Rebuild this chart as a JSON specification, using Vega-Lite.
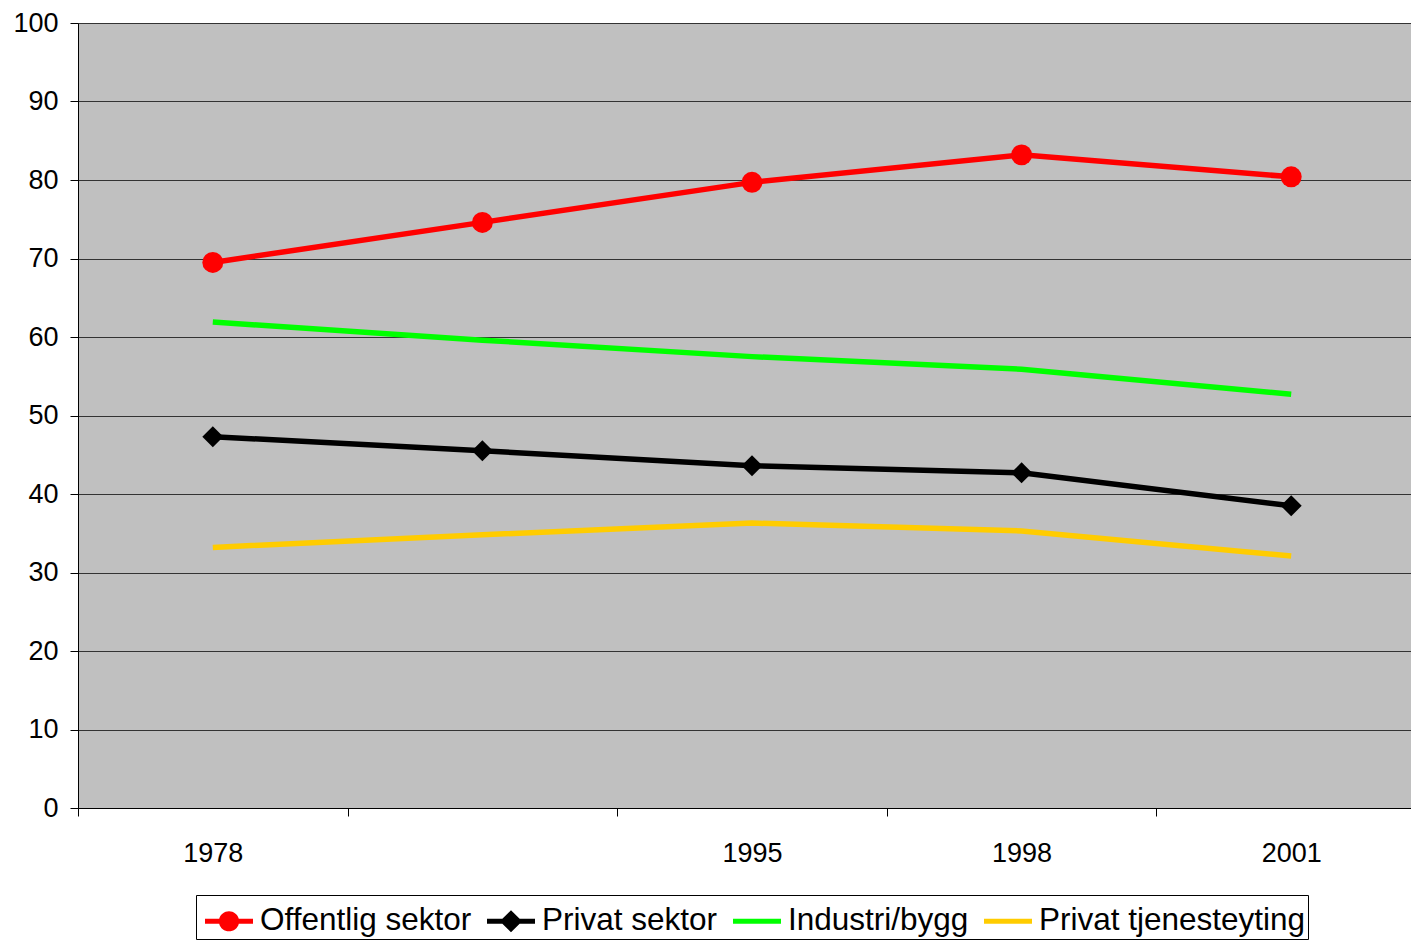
{
  "$schema": "https://vega.github.io/schema/vega-lite/v6.json",
  "width": 1348,
  "height": 785,
  "autosize": {"type": "none"},
  "padding": {"left": 78, "top": 23, "right": 0, "bottom": 132},
  "background": "white",
  "config": {
    "view": {"fill": "#c0c0c0", "stroke": null},
    "font": "Liberation Sans"
  },
  "data": {
    "values": [
      {"year": "1978", "series": "Offentlig sektor", "value": 69.5},
      {"year": "", "series": "Offentlig sektor", "value": 74.6},
      {"year": "1995", "series": "Offentlig sektor", "value": 79.7},
      {"year": "1998", "series": "Offentlig sektor", "value": 83.2},
      {"year": "2001", "series": "Offentlig sektor", "value": 80.4},
      {"year": "1978", "series": "Privat sektor", "value": 47.3},
      {"year": "", "series": "Privat sektor", "value": 45.5},
      {"year": "1995", "series": "Privat sektor", "value": 43.6},
      {"year": "1998", "series": "Privat sektor", "value": 42.7},
      {"year": "2001", "series": "Privat sektor", "value": 38.5},
      {"year": "1978", "series": "Industri/bygg", "value": 61.9},
      {"year": "", "series": "Industri/bygg", "value": 59.6},
      {"year": "1995", "series": "Industri/bygg", "value": 57.5},
      {"year": "1998", "series": "Industri/bygg", "value": 55.9},
      {"year": "2001", "series": "Industri/bygg", "value": 52.7},
      {"year": "1978", "series": "Privat tjenesteyting", "value": 33.2},
      {"year": "", "series": "Privat tjenesteyting", "value": 34.8},
      {"year": "1995", "series": "Privat tjenesteyting", "value": 36.3},
      {"year": "1998", "series": "Privat tjenesteyting", "value": 35.3},
      {"year": "2001", "series": "Privat tjenesteyting", "value": 32.1}
    ]
  },
  "encoding": {
    "x": {
      "field": "year",
      "type": "ordinal",
      "sort": ["1978", "", "1995", "1998", "2001"],
      "scale": {"type": "band", "paddingInner": 0, "paddingOuter": 0},
      "axis": {
        "title": null,
        "labelAngle": 0,
        "tickBand": "extent",
        "tickSize": 8,
        "tickColor": "black",
        "domainColor": "black",
        "labelFontSize": 27,
        "labelFont": "Liberation Sans",
        "labelColor": "black",
        "labelPadding": 24,
        "grid": false
      }
    },
    "y": {
      "field": "value",
      "type": "quantitative",
      "scale": {"domain": [0, 100], "nice": false},
      "axis": {
        "title": null,
        "values": [0, 10, 20, 30, 40, 50, 60, 70, 80, 90, 100],
        "grid": true,
        "gridColor": "#333333",
        "gridOpacity": 1,
        "tickSize": 8,
        "tickColor": "black",
        "domainColor": "black",
        "labelFontSize": 27,
        "labelFont": "Liberation Sans",
        "labelColor": "black",
        "labelPadding": 12
      }
    }
  },
  "layer": [
    {
      "mark": {"type": "line", "strokeWidth": 5.5, "strokeCap": "butt"},
      "encoding": {
        "color": {
          "field": "series",
          "type": "nominal",
          "scale": {
            "domain": ["Offentlig sektor", "Privat sektor", "Industri/bygg", "Privat tjenesteyting"],
            "range": ["#ff0000", "#000000", "#00ff00", "#ffcc00"]
          },
          "legend": {
            "title": null,
            "orient": "none",
            "legendX": 118,
            "legendY": 872,
            "direction": "horizontal",
            "strokeColor": "black",
            "fillColor": "white",
            "padding": 2,
            "symbolSize": 2304,
            "symbolOffset": 7,
            "symbolStrokeWidth": 0,
            "labelOffset": 7,
            "labelLimit": 0,
            "columnPadding": 8,
            "labelFontSize": 31.5,
            "labelFont": "Liberation Sans",
            "labelColor": "black",
            "encode": {
              "symbols": {
                "update": {
                  "shape": {"signal": "datum.value === 'Offentlig sektor' ? 'M-1,-0.1H-0.408A0.42,0.42 0 0,1 0.408,-0.1H1V0.1H0.408A0.42,0.42 0 0,1 -0.408,0.1H-1Z' : datum.value === 'Privat sektor' ? 'M-1,-0.1H-0.36L0,-0.46L0.36,-0.1H1V0.1H0.36L0,0.46L-0.36,0.1H-1Z' : 'M-1,-0.1H1V0.1H-1Z'"},
                  "fill": {"scale": "color", "field": "value"},
                  "fillOpacity": {"value": 1},
                  "stroke": {"value": "transparent"},
                  "strokeWidth": {"value": 0}
                }
              }
            }
          }
        }
      }
    },
    {
      "transform": [{"filter": "datum.series === 'Offentlig sektor'"}],
      "mark": {"type": "point", "shape": "circle", "filled": true, "color": "#ff0000", "size": 440, "opacity": 1}
    },
    {
      "transform": [{"filter": "datum.series === 'Privat sektor'"}],
      "mark": {"type": "point", "shape": "diamond", "filled": true, "color": "#000000", "size": 440, "opacity": 1}
    }
  ]
}
